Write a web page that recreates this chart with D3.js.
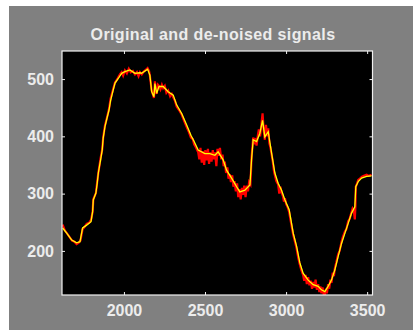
<!DOCTYPE html>
<html>
<head>
<meta charset="utf-8">
<script src="https://cdn.jsdelivr.net/npm/d3@7"></script>
<style>
  html, body { margin: 0; padding: 0; background: #fff; }
  svg { display: block; font-family: "Liberation Sans", Arial, sans-serif; }
</style>
</head>
<body>
<div id="chart"></div>
<script>
// de-noised signal (yellow)
const denX = [1622, 1647, 1678, 1708, 1729, 1745, 1770, 1797, 1807, 1811, 1827, 1835, 1842, 1856, 1866, 1872,
  1883, 1893, 1908, 1918, 1934, 1945, 1965, 1986, 2006, 2037, 2068, 2099, 2109, 2146, 2160, 2171, 2185, 2191,
  2202, 2216, 2242, 2273, 2304, 2325, 2356, 2387, 2413, 2433, 2458, 2499, 2530, 2561, 2581, 2612, 2633, 2664,
  2695, 2715, 2746, 2777, 2787, 2797, 2818, 2838, 2855, 2869, 2890, 2911, 2931, 2951, 2972, 2993, 3019, 3044,
  3065, 3085, 3105, 3136, 3167, 3198, 3218, 3239, 3259, 3280, 3301, 3321, 3342, 3363, 3383, 3404, 3424, 3430,
  3445, 3466, 3497, 3527];
const denY = [240, 231, 219, 214, 216, 240, 245, 251, 269, 289, 301, 318, 336, 359, 376, 397,
  417, 429, 446, 463, 481, 493, 501, 510, 513, 516, 510, 511, 510, 517, 507, 478, 469, 492,
  475, 487, 487, 478, 472, 455, 440, 420, 402, 391, 376, 370, 370, 367, 373, 359, 341, 327,
  312, 303, 306, 315, 359, 394, 391, 405, 428, 399, 408, 370, 336, 318, 306, 289, 272, 231,
  208, 179, 161, 149, 141, 138, 132, 129, 138, 149, 167, 190, 213, 231, 248, 266, 277, 312,
  321, 327, 330, 331];

// original signal (red)
const origX = [1622, 1635, 1650, 1665, 1680, 1695, 1708, 1720, 1732, 1745, 1758, 1770, 1785, 1797, 1807, 1811,
  1827, 1835, 1842, 1856, 1866, 1872, 1883, 1893, 1908, 1918, 1934, 1945, 1955, 1965, 1975, 1986, 1995, 2006,
  2018, 2030, 2042, 2055, 2068, 2080, 2090, 2099, 2110, 2122, 2135, 2146, 2155, 2160, 2171, 2185, 2191, 2198,
  2202, 2210, 2216, 2225, 2234, 2242, 2252, 2262, 2273, 2285, 2295, 2304, 2315, 2325, 2340, 2356, 2370, 2387,
  2400, 2413, 2425, 2433, 2445, 2458, 2465, 2472, 2480, 2488, 2495, 2502, 2510, 2518, 2525, 2532, 2540, 2548,
  2555, 2562, 2570, 2577, 2585, 2592, 2600, 2608, 2615, 2622, 2630, 2638, 2645, 2652, 2660, 2668, 2675, 2682,
  2690, 2698, 2705, 2712, 2720, 2728, 2735, 2742, 2750, 2758, 2765, 2772, 2780, 2787, 2797, 2805, 2812, 2818,
  2825, 2832, 2840, 2848, 2855, 2862, 2869, 2876, 2883, 2890, 2897, 2904, 2911, 2918, 2925, 2931, 2940, 2951,
  2958, 2965, 2972, 2980, 2987, 2993, 3000, 3010, 3019, 3030, 3044, 3055, 3065, 3075, 3085, 3095, 3105, 3112,
  3120, 3128, 3136, 3144, 3152, 3160, 3167, 3175, 3182, 3190, 3198, 3205, 3212, 3218, 3225, 3232, 3239, 3246,
  3252, 3259, 3266, 3273, 3280, 3288, 3295, 3301, 3310, 3321, 3330, 3342, 3350, 3363, 3372, 3383, 3392, 3398,
  3404, 3410, 3418, 3424, 3428, 3430, 3438, 3445, 3455, 3466, 3480, 3497, 3510, 3527];
const origY = [246, 236, 230, 224, 218, 216, 212, 214, 218, 238, 242, 247, 249, 254, 268, 290,
  301, 320, 336, 362, 377, 398, 419, 430, 448, 466, 483, 494, 498, 503, 508, 512, 506, 515,
  510, 518, 512, 514, 508, 512, 505, 512, 508, 513, 516, 519, 514, 506, 480, 467, 496, 478,
  474, 490, 488, 482, 490, 484, 488, 476, 480, 470, 474, 468, 462, 452, 446, 438, 428, 416,
  408, 398, 395, 386, 380, 372, 360, 380, 354, 374, 350, 376, 358, 378, 352, 372, 356, 376,
  360, 372, 348, 378, 366, 380, 360, 368, 348, 356, 336, 346, 326, 334, 320, 332, 312, 322,
  304, 318, 294, 308, 290, 310, 298, 314, 294, 314, 304, 320, 316, 362, 398, 386, 397, 384,
  400, 412, 400, 422, 440, 410, 394, 420, 400, 414, 388, 380, 368, 356, 340, 332, 322, 316,
  300, 312, 302, 296, 286, 292, 282, 276, 268, 250, 228, 216, 204, 188, 176, 166, 158, 148,
  158, 142, 154, 140, 148, 134, 146, 136, 150, 132, 142, 128, 138, 126, 136, 124, 122, 134,
  126, 142, 134, 150, 144, 162, 156, 170, 180, 194, 200, 216, 224, 234, 238, 252, 256, 262,
  268, 274, 270, 255, 280, 312, 318, 324, 326, 329, 331, 333, 331, 333];

const xTicks = [2000, 2500, 3000, 3500];
const yTicks = [200, 300, 400, 500];
const xDomain = [1618, 3533];
const yDomain = [123, 549];
const title = "Original and de-noised signals";

const W = 413, H = 330;
const margin = { top: 51, right: 40.5, bottom: 35, left: 62 };
const width = W - margin.left - margin.right;
const height = H - margin.top - margin.bottom;

const root = d3.select("#chart").append("svg")
  .attr("width", W)
  .attr("height", H);

root.append("rect")
  .attr("x", 9).attr("y", 6)
  .attr("width", W - 9).attr("height", H - 6)
  .attr("fill", "#808080");

const svg = root.append("g")
  .attr("transform", `translate(${margin.left},${margin.top})`);

const x = d3.scaleLinear().domain(xDomain).range([0, width]);
const y = d3.scaleLinear().domain(yDomain).range([height, 0]);

svg.append("rect")
  .attr("width", width).attr("height", height)
  .attr("fill", "#000");

const clip = svg.append("clipPath").attr("id", "clip");
clip.append("rect").attr("width", width).attr("height", height);

const line = d3.line()
  .x(d => x(d[0]))
  .y(d => y(d[1]));

const orig = origX.map((v, i) => [v, origY[i]]);
const den = denX.map((v, i) => [v, denY[i]]);

svg.append("path")
  .datum(orig)
  .attr("clip-path", "url(#clip)")
  .attr("fill", "none")
  .attr("stroke", "#ff0000")
  .attr("stroke-width", 2.2)
  .attr("d", line);

svg.append("path")
  .datum(den)
  .attr("clip-path", "url(#clip)")
  .attr("fill", "none")
  .attr("stroke", "#ffff00")
  .attr("stroke-width", 1.3)
  .attr("d", line);

// axes, ticks pointing inward on all four sides
const axisColor = "#f0f0f0";
function styleAxis(g) {
  g.select(".domain").remove();
  g.selectAll("line").attr("stroke", axisColor);
  g.selectAll("text")
    .attr("fill", "#ececec")
    .style("font-size", "16px")
    .style("font-weight", "bold");
}

svg.append("g")
  .attr("transform", `translate(0,${height})`)
  .call(d3.axisBottom(x).tickValues(xTicks).tickSize(-3).tickPadding(10).tickFormat(d3.format("d")))
  .call(styleAxis);

svg.append("g")
  .call(d3.axisTop(x).tickValues(xTicks).tickSize(-3).tickFormat(""))
  .call(styleAxis);

svg.append("g")
  .call(d3.axisLeft(y).tickValues(yTicks).tickSize(-3).tickPadding(8).tickFormat(d3.format("d")))
  .call(styleAxis);

svg.append("g")
  .attr("transform", `translate(${width},0)`)
  .call(d3.axisRight(y).tickValues(yTicks).tickSize(-3).tickFormat(""))
  .call(styleAxis);

svg.append("rect")
  .attr("width", width).attr("height", height)
  .attr("fill", "none")
  .attr("stroke", axisColor)
  .attr("stroke-width", 1.2);

root.append("text")
  .attr("x", 213)
  .attr("y", 40)
  .attr("text-anchor", "middle")
  .attr("fill", "#ececec")
  .style("font-size", "16px")
  .style("font-weight", "bold")
  .style("letter-spacing", "0.4px")
  .text(title);
</script>
</body>
</html>
